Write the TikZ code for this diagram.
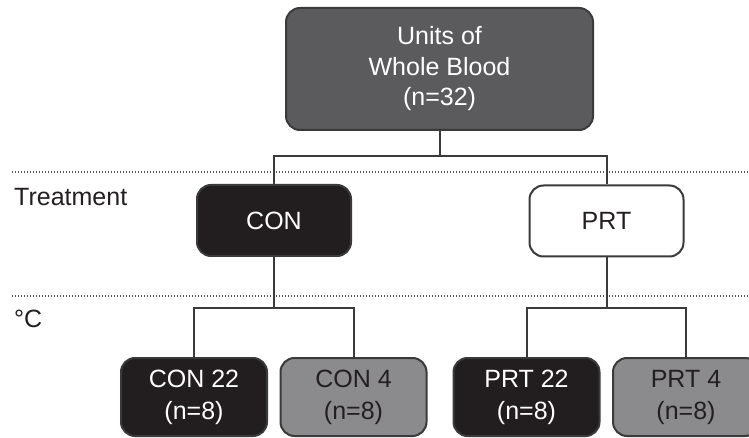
\documentclass[tikz,border=0pt]{standalone}
\usepackage{fontspec}
\setmainfont{Liberation Sans}
\definecolor{topfill}{HTML}{5B5B5D}
\definecolor{blackfill}{HTML}{221E1F}
\definecolor{grayfill}{HTML}{8B8B8D}
\definecolor{edge}{HTML}{3A3A3A}
\definecolor{ink}{HTML}{231F20}
\definecolor{dotc}{HTML}{555555}
\begin{document}
\begin{tikzpicture}[x=1pt,y=-1pt,
  box/.style={draw=edge, line width=2pt, rounded corners=14pt, align=center,
    font=\fontsize{25}{32}\selectfont, inner sep=0pt},
  topbox/.style={box, fill=topfill, text=white, minimum width=307pt, minimum height=122pt,
    font=\fontsize{25}{30.5}\selectfont},
  darkbox/.style={box, fill=blackfill, text=white},
  whitebox/.style={box, fill=white, text=ink},
  graybox/.style={box, fill=grayfill, text=ink},
  midsize/.style={minimum width=154pt, minimum height=71pt},
  lowsize/.style={minimum width=146pt, minimum height=78pt},
  conn/.style={draw=edge, line width=2pt},
  sep/.style={draw=dotc, line width=1.6pt, dash pattern=on 1.4pt off 1.6pt},
  lbl/.style={anchor=base west, text=ink, font=\fontsize{25}{30}\selectfont, inner sep=0pt}]
\useasboundingbox (0,0) rectangle (749,438);
\clip (0,0) rectangle (749,438);
\fill[white] (0,0) rectangle (749,438);

\draw[sep] (12,172) -- (749,172);
\draw[sep] (12,296) -- (749,296);

\node[topbox] (top) at (439.5,69) {Units of\\Whole Blood\\(n=32)};
\node[darkbox, midsize] (con) at (274,220.5) {CON};
\node[whitebox, midsize] (prt) at (606.5,221) {PRT};
\node[darkbox, lowsize] (con22) at (194,397) {CON 22\\(n=8)};
\node[graybox, lowsize] (con4) at (353.5,397) {CON 4\\(n=8)};
\node[darkbox, lowsize] (prt22) at (526.5,397) {PRT 22\\(n=8)};
\node[graybox, lowsize] (prt4) at (686,397) {PRT 4\\(n=8)};

\node[lbl] (treat) at (14,206) {Treatment};
\node[lbl] (degc) at (14,327) {°C};

\coordinate (j1) at (439.5,156);
\coordinate (j2) at (274,308);
\coordinate (j3) at (606.5,308);

\draw[conn] (top.south) -- (j1);
\draw[conn] (con.north) |- (j1) -| (prt.north);
\draw[conn] (con.south) -- (j2);
\draw[conn] (con22.north) |- (j2) -| (con4.north);
\draw[conn] (prt.south) -- (j3);
\draw[conn] (prt22.north) |- (j3) -| (prt4.north);
\end{tikzpicture}
\end{document}
